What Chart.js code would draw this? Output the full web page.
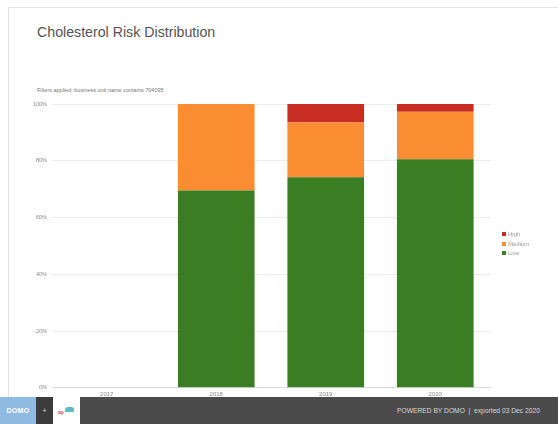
<!DOCTYPE html>
<html>
<head>
<meta charset="utf-8">
<script src="https://cdn.jsdelivr.net/npm/chart.js@4.4.1/dist/chart.umd.min.js"></script>
<style>
  html, body { margin:0; padding:0; background:#fff; }
  body { width:558px; height:424px; position:relative; overflow:hidden; font-family:"Liberation Sans", Arial, sans-serif; }
  #card { position:absolute; left:8px; top:7px; width:560px; height:430px; border:1px solid #e4e4e4; border-right:none; box-sizing:border-box; }
  #title { position:absolute; left:37px; top:24px; font-size:14.2px; color:#555; white-space:nowrap; }
  #filter { position:absolute; left:37px; top:87px; font-size:5.5px; color:#777; white-space:nowrap; }
  #cv { position:absolute; left:0; top:0; }
  .leg { position:absolute; left:502px; font-size:6px; color:#999; white-space:nowrap; line-height:6px; }
  .leg span { display:inline-block; width:4px; height:4px; margin-right:2px; vertical-align:0px; }
  #footer { position:absolute; left:0; top:397px; width:558px; height:27px; background:#4b4b4b; }
  #domo { position:absolute; left:0; top:0; width:36px; height:27px; background:#8fbbe3; color:#fff; font-size:7px; font-weight:bold; line-height:27px; text-align:center; letter-spacing:0.3px; }
  #plus { position:absolute; left:36px; top:0; width:17px; height:27px; background:#3c3c3c; color:#ddd; font-size:7px; line-height:27px; text-align:center; }
  #logo { position:absolute; left:53px; top:0; width:27px; height:27px; background:#fff; }
  #logo .a { position:absolute; left:5px; top:12px; font-size:5px; color:#d9534f; font-weight:bold; }
  #logo .b { position:absolute; left:12px; top:10px; width:9px; height:5px; border-radius:3px 3px 1px 1px; background:#5bbcc8; }
  #ftext { position:absolute; left:397px; top:10px; font-size:6.7px; color:#d8d8d8; white-space:nowrap; }
</style>
</head>
<body>
<div id="card"></div>
<div id="title">Cholesterol Risk Distribution</div>
<div id="filter">Filters applied: business unit name contains 704095</div>
<canvas id="cv" width="558" height="424"></canvas>
<div class="leg" style="top:231px"><span style="background:#c72d23"></span>High</div>
<div class="leg" style="top:241px"><span style="background:#fa8c32"></span>Medium</div>
<div class="leg" style="top:250px"><span style="background:#3b7d23"></span>Low</div>
<div id="footer">
  <div id="domo">DOMO</div>
  <div id="plus">+</div>
  <div id="logo"><div class="a">ap</div><div class="b"></div></div>
  <div id="ftext">POWERED BY DOMO &nbsp;|&nbsp; exported 03 Dec 2020</div>
</div>
<script>
const categories = ["2017", "2018", "2019", "2020"];
const lowValues = [0, 69.5, 74.2, 80.5];
const mediumValues = [0, 30.5, 19.3, 16.8];
const highValues = [0, 0, 6.5, 2.7];
const yTicks = [0, 20, 40, 60, 80, 100];

const ctx = document.getElementById('cv').getContext('2d');
new Chart(ctx, {
  type: 'bar',
  data: {
    labels: categories,
    datasets: [
      { label: 'Low', data: lowValues, backgroundColor: '#3b7d23' },
      { label: 'Medium', data: mediumValues, backgroundColor: '#fa8c32' },
      { label: 'High', data: highValues, backgroundColor: '#c72d23' }
    ]
  },
  options: {
    responsive: false,
    animation: false,
    devicePixelRatio: 1,
    layout: { padding: { left: 0, right: 68, top: 104, bottom: 23 } },
    plugins: { legend: { display: false }, tooltip: { enabled: false } },
    datasets: { bar: { categoryPercentage: 1, barPercentage: 0.7 } },
    scales: {
      x: {
        stacked: true,
        grid: { display: true, drawOnChartArea: false, drawTicks: false },
        border: { display: true, color: '#dcdcdc' },
        ticks: { display: true, color: '#888', font: { size: 6, family: 'Liberation Sans' }, padding: 3, autoSkip: false, maxRotation: 0, minRotation: 0 }
      },
      y: {
        stacked: true,
        min: 0, max: 100,
        afterBuildTicks: (s) => { s.ticks = yTicks.map(v => ({ value: v })); },
        grid: { color: '#ececec', drawTicks: false },
        border: { display: false },
        ticks: { color: '#888', font: { size: 5.5, family: 'Liberation Sans' }, padding: 5, callback: (v) => v + '%' },
        afterFit: (s) => { s.width = 52; }
      }
    }
  }
});
</script>
</body>
</html>
